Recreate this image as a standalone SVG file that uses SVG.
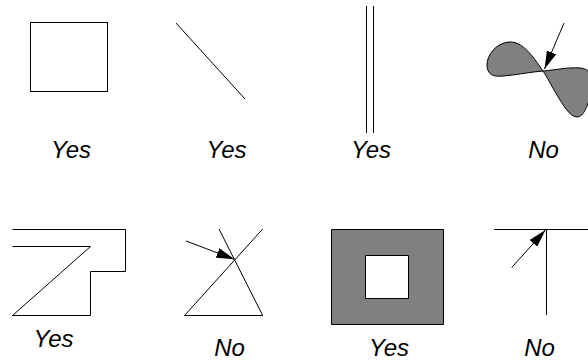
<svg xmlns="http://www.w3.org/2000/svg" width="588" height="362" viewBox="0 0 588 362">
<defs>
<style>
.s{fill:none;stroke:#000;stroke-width:1}
.g{fill:#808080;stroke:#000;stroke-width:1}
.w{fill:#fff;stroke:#000;stroke-width:1}
.t{font-family:"Liberation Sans",Arial,sans-serif;font-style:italic;font-size:24px;fill:#000;text-anchor:middle}
</style>
<marker id="ah" markerUnits="userSpaceOnUse" markerWidth="18" markerHeight="10" refX="18" refY="5" orient="auto">
<path d="M0,0 L18,5 L0,10 z" fill="#000"/>
</marker>
</defs>
<rect width="588" height="362" fill="#fff"/>
<g id="square">
<rect class="s" x="30.5" y="22.5" width="77" height="69"/>
<text class="t" x="71" y="158">Yes</text>
</g>
<g id="line">
<line class="s" x1="176" y1="23" x2="245" y2="99"/>
<text class="t" x="226.5" y="158">Yes</text>
</g>
<g id="parallel">
<line class="s" x1="366.5" y1="6" x2="366.5" y2="133"/>
<line class="s" x1="373.5" y1="6" x2="373.5" y2="133"/>
<text class="t" x="371" y="158">Yes</text>
</g>
<g id="figure8">
<path class="g" d="M543,71 C532,55 522,41 509,42 C496,43 487,55 487,65 C487,75 494,77 503,76 C516,75 530,72 543,71 C556,70 568,67 580,68 C592,69 594,78 591,92 C588,105 584,117 577,117 C570,117 563,105 557,95 C551,85 547,77 543,71 Z"/>
<text class="t" x="543.5" y="158">No</text>
</g>
<g id="step">
<path class="s" d="M12.5,229.5 H125.5 V271.5 H90.5 V315.5 H12.5 L90.5,246.5 H12.5"/>
<text class="t" x="53.5" y="346.7">Yes</text>
</g>
<g id="cross">
<line class="s" x1="184.5" y1="315.5" x2="262.7" y2="229"/>
<line class="s" x1="219" y1="229" x2="262.7" y2="315.5"/>
<line class="s" x1="184.5" y1="315.5" x2="262.7" y2="315.5"/>
<text class="t" x="229.5" y="355.7">No</text>
</g>
<g id="ring">
<path fill="#808080" fill-rule="evenodd" stroke="#000" stroke-width="1" d="M331.5,229.5 H443.5 V324.5 H331.5 Z M365.5,255.5 V298.5 H408.5 V255.5 Z"/>
<text class="t" x="389" y="355.7">Yes</text>
</g>
<g id="tee">
<line class="s" x1="494" y1="229.5" x2="590" y2="229.5"/>
<line class="s" x1="546.5" y1="229.5" x2="546.5" y2="315"/>
<text class="t" x="539.5" y="355.7">No</text>
</g>
<g id="connectors">
<line class="s" x1="564" y1="23" x2="544.5" y2="69" marker-end="url(#ah)"/>
<line class="s" x1="186" y1="241" x2="234.5" y2="259.3" marker-end="url(#ah)"/>
<line class="s" x1="511.7" y1="267.5" x2="545.5" y2="230" marker-end="url(#ah)"/>
</g>
</svg>
